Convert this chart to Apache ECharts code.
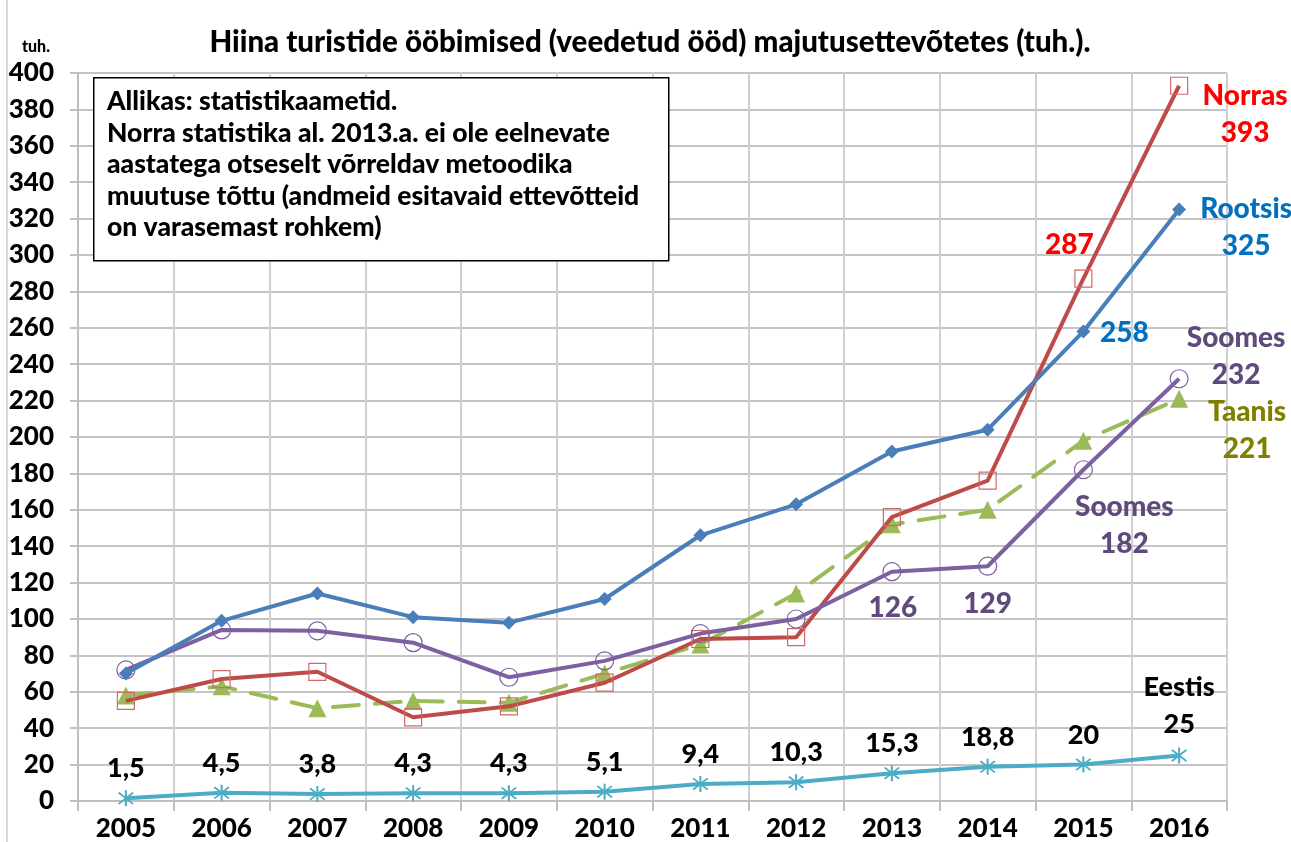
<!DOCTYPE html>
<html>
<head>
<meta charset="utf-8">
<title>Hiina turistide ööbimised</title>
<script src="https://cdn.jsdelivr.net/npm/echarts@6/dist/echarts.min.js"></script>
<style>
	html, body { margin: 0; padding: 0; background: #fff; }
	#main { width: 1291px; height: 842px; }
</style>
</head>
<body>
<div id="main"></div>
<script>
// aastad
var years = ['2005', '2006', '2007', '2008', '2009', '2010', '2011', '2012', '2013', '2014', '2015', '2016'];
// tuh. ööd
var rootsis = [70, 99, 114, 101, 98, 111, 146, 163, 192, 204, 258, 325];
var soomes = [72, 94, 93.5, 87, 68, 77, 92, 100, 126, 129, 182, 232];
var norras = [55, 67, 71, 46, 52, 65, 89, 90, 156, 176, 287, 393];
var taanis = [58, 63, 51, 55, 54, 70, 86, 114, 152, 160, 198, 221];
var eestis = [1.5, 4.5, 3.8, 4.3, 4.3, 5.1, 9.4, 10.3, 15.3, 18.8, 20, 25];
var yTicks = { min: 0, max: 400, step: 20 };

var FONT = 'Lato';
var W = 900;

// silt punkti juurde (inside + nihe)
function tag(value, text, color, dx, dy, size) {
	return {
		value : value,
		label : {
			show : true,
			position : 'inside',
			offset : [ dx, dy ],
			formatter : text,
			color : color,
			fontFamily : FONT,
			fontWeight : W,
			fontSize : size || 28,
			lineHeight : 37,
			align : 'center',
			verticalAlign : 'middle',
			textBorderWidth : 0
		}
	};
}

function withTags(values, tags) {
	var out = [];
	for (var i = 0; i < values.length; i++) {
		out.push(tags[i] ? tags[i] : values[i]);
	}
	return out;
}

var rootsisData = withTags(rootsis, {
	10 : tag(rootsis[10], String(rootsis[10]), '#0070C0', 41, 2),
	11 : tag(rootsis[11], 'Rootsis\n' + rootsis[11], '#0070C0', 67, 18)
});
var norrasData = withTags(norras, {
	10 : tag(norras[10], String(norras[10]), '#FF0000', -14, -34),
	11 : tag(norras[11], 'Norras\n' + norras[11], '#FF0000', 66, 29)
});
var soomesData = withTags(soomes, {
	8 : tag(soomes[8], String(soomes[8]), '#604A7B', 1, 36),
	9 : tag(soomes[9], String(soomes[9]), '#604A7B', 0, 38),
	10 : tag(soomes[10], 'Soomes\n' + soomes[10], '#604A7B', 41, 56),
	11 : tag(soomes[11], 'Soomes\n' + soomes[11], '#604A7B', 57, -22)
});
var taanisData = withTags(taanis, {
	11 : tag(taanis[11], 'Taanis\n' + taanis[11], '#808000', 68, 32)
});
var eestisData = withTags(eestis, {
	11 : tag(eestis[11], 'Eestis\n' + eestis[11], '#000', 0, -50, 27)
});

// Excel-i tärn
var asterisk = 'path://M9,0h2v20h-2z M2.2,3.6l1.4,-1.4l14.2,14.2l-1.4,1.4z M16.4,2.2l1.4,1.4l-14.2,14.2l-1.4,-1.4z';

var chart = echarts.init(document.getElementById('main'));
var option = {
	animation : false,
	backgroundColor : '#fff',
	title : {
		text : 'Hiina turistide ööbimised (veedetud ööd) majutusettevõtetes (tuh.).',
		left : 645,
		textAlign : 'center',
		top : 22,
		textStyle : {
			fontFamily : FONT,
			fontWeight : W,
			fontSize : 29.5,
			color : '#000'
		}
	},
	grid : {
		left : 78,
		right : 64,
		top : 73,
		bottom : 40,
		containLabel : false
	},
	xAxis : {
		type : 'category',
		data : years,
		boundaryGap : true,
		axisLine : { lineStyle : { color : '#BFBFBF', width : 2 } },
		axisTick : { show : true, length : 10, lineStyle : { color : '#BFBFBF', width : 2 } },
		splitLine : { show : true, lineStyle : { color : '#D0D0D0', width : 2 } },
		axisLabel : {
			color : '#000',
			fontFamily : FONT,
			fontWeight : W,
			fontSize : 26,
			margin : 15
		}
	},
	yAxis : {
		type : 'value',
		min : yTicks.min,
		max : yTicks.max,
		interval : yTicks.step,
		name : 'tuh.',
		nameLocation : 'end',
		nameGap : 18,
		nameTextStyle : {
			color : '#000',
			fontFamily : FONT,
			fontWeight : W,
			fontSize : 16,
			align : 'right',
			padding : [ 0, 28, 0, 0 ]
		},
		axisLine : { show : true, lineStyle : { color : '#BFBFBF', width : 2 } },
		axisTick : { show : true, length : 8, lineStyle : { color : '#BFBFBF', width : 2 } },
		splitLine : { show : true, lineStyle : { color : '#C4C4C4', width : 2 } },
		axisLabel : {
			color : '#000',
			fontFamily : FONT,
			fontWeight : W,
			fontSize : 26,
			margin : 24
		}
	},
	graphic : [ {
		type : 'line',
		shape : { x1 : 7, y1 : 0, x2 : 7, y2 : 842 },
		style : { stroke : '#D9D9D9', lineWidth : 2 }
	}, {
		type : 'rect',
		left : 93,
		top : 77,
		z : 10,
		shape : { width : 575, height : 183 },
		style : { fill : '#fff', stroke : '#000', lineWidth : 1.5 }
	}, {
		type : 'text',
		left : 107,
		top : 86,
		z : 11,
		style : {
			text : 'Allikas: statistikaametid.\nNorra statistika al. 2013.a. ei ole eelnevate\naastatega otseselt võrreldav metoodika\nmuutuse tõttu (andmeid esitavaid ettevõtteid\non varasemast rohkem)',
			fill : '#000',
			font : W + ' 26.5px ' + FONT,
			lineHeight : 31.5
		}
	} ],
	series : [ {
		name : 'Rootsis',
		type : 'line',
		data : rootsisData,
		symbol : 'diamond',
		symbolSize : 14,
		lineStyle : { color : '#4A7EBB', width : 4 },
		itemStyle : { color : '#4A7EBB' },
		z : 5
	}, {
		name : 'Norras',
		type : 'line',
		data : norrasData,
		symbol : 'rect',
		symbolSize : 17,
		lineStyle : { color : '#BE4B48', width : 4 },
		itemStyle : { color : 'rgba(255,255,255,0)', borderColor : '#D06A67', borderWidth : 1.2 },
		z : 4
	}, {
		name : 'Soomes',
		type : 'line',
		data : soomesData,
		symbol : 'circle',
		symbolSize : 18,
		lineStyle : { color : '#7D60A0', width : 4 },
		itemStyle : { color : 'rgba(255,255,255,0)', borderColor : '#7D60A0', borderWidth : 1.2 },
		z : 4
	}, {
		name : 'Taanis',
		type : 'line',
		data : taanisData,
		symbol : 'triangle',
		symbolSize : 18,
		lineStyle : { color : '#9BBB59', width : 4, type : [ 26, 16 ], cap : 'round' },
		itemStyle : { color : '#9BBB59' },
		z : 3
	}, {
		name : 'Eestis',
		type : 'line',
		data : eestisData,
		symbol : asterisk,
		symbolSize : 16,
		lineStyle : { color : '#4BACC6', width : 4 },
		itemStyle : { color : '#4BACC6' },
		label : {
			show : true,
			position : 'top',
			distance : 8,
			color : '#000',
			fontFamily : FONT,
			fontWeight : W,
			fontSize : 27,
			formatter : function(p) {
				return String(p.value).replace('.', ',');
			}
		},
		z : 5
	} ]
};
chart.setOption(option);
</script>
</body>
</html>
